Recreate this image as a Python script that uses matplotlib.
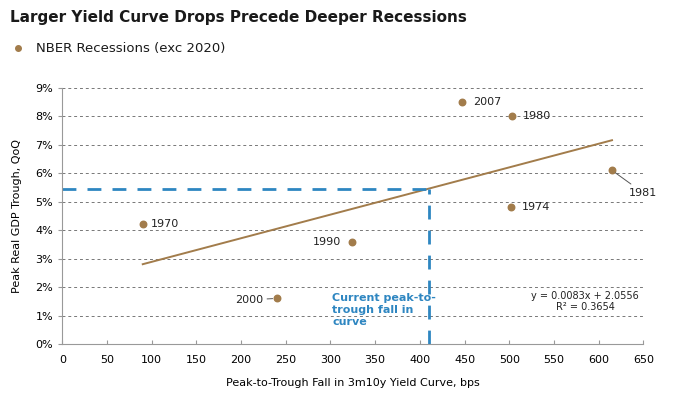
import matplotlib
matplotlib.use("Agg")
import matplotlib.pyplot as plt
from matplotlib.ticker import FuncFormatter

# NBER recessions (exc 2020): peak-to-trough fall in 3m10y curve vs GDP trough
years = ["1970", "2000", "1990", "2007", "1980", "1974", "1981"]
fall_bps = [90, 240, 324, 447, 503, 502, 615]
gdp_trough = [4.2, 1.6, 3.6, 8.5, 8.0, 4.8, 6.1]

# trendline as printed on the chart
slope = 0.0083
intercept = 2.0556
r2 = 0.3654

current_fall = 410

brown = "#A27C4B"
blue = "#2E86C1"

fig = plt.figure(figsize=(7, 3.94), dpi=100)
ax = fig.add_axes([0.089, 0.127, 0.830, 0.650])

ax.scatter(fall_bps, gdp_trough, s=22, color=brown, zorder=3)

x0, x1 = min(fall_bps), max(fall_bps)
ax.plot([x0, x1], [slope * x0 + intercept, slope * x1 + intercept],
        color=brown, lw=1.4, zorder=2)

# current reading, projected on the trendline
cur_y = slope * current_fall + intercept
ax.plot([0, current_fall], [cur_y, cur_y], color=blue, lw=2, ls=(0, (5, 4)), zorder=2)
ax.plot([current_fall, current_fall], [0, cur_y], color=blue, lw=2, ls=(0, (5, 4)), zorder=2)
ax.text(302, 1.78, "Current peak-to-\ntrough fall in\ncurve", color=blue, fontsize=8,
        fontweight="bold", va="top", ha="left", linespacing=1.25)

# point labels: (dx, dy) offsets in points and leader line flag
offsets = {
    "1970": (6, 0, "left", False),
    "2000": (-10, -1, "right", True),
    "1990": (-8, 0, "right", False),
    "2007": (8, 0, "left", False),
    "1980": (8, 0, "left", False),
    "1974": (8, 0, "left", False),
    "1981": (12, -16, "left", True),
}
for yr, xv, yv in zip(years, fall_bps, gdp_trough):
    dx, dy, ha, leader = offsets[yr]
    ax.annotate(yr, (xv, yv), xytext=(dx, dy), textcoords="offset points",
                ha=ha, va="center", fontsize=8, color="#222222",
                arrowprops=dict(arrowstyle="-", color="#555555", lw=0.7,
                                shrinkA=1, shrinkB=3) if leader else None)

ax.text(585, 1.5, "y = 0.0083x + 2.0556\nR\u00b2 = 0.3654", fontsize=7,
        ha="center", va="center", linespacing=1.1, color="#222222")

ax.set_xlim(0, 650)
ax.set_ylim(0, 9)
ax.set_xticks(range(0, 651, 50))
ax.set_yticks(range(0, 10))
ax.yaxis.set_major_formatter(FuncFormatter(lambda v, p: "%d%%" % v))
ax.grid(axis="y", ls=(0, (3, 3)), color="#777777", lw=0.7)
ax.set_axisbelow(True)
for s in ["top", "right"]:
    ax.spines[s].set_visible(False)
for s in ["left", "bottom"]:
    ax.spines[s].set_color("#999999")
ax.tick_params(axis="x", direction="in", length=3, color="#999999", labelsize=8, pad=8)
ax.tick_params(axis="y", direction="out", length=3, color="#999999", labelsize=8)

ax.set_xlabel("Peak-to-Trough Fall in 3m10y Yield Curve, bps", fontsize=8, labelpad=9)
ax.set_ylabel("Peak Real GDP Trough, QoQ", fontsize=8, labelpad=10)

fig.text(0.014, 0.955, "Larger Yield Curve Drops Precede Deeper Recessions",
         fontsize=11, fontweight="bold", va="center", ha="left", color="#1a1a1a")
fig.lines.append(plt.Line2D([0.026], [0.878], marker="o", ms=4, color=brown,
                            transform=fig.transFigure))
fig.text(0.052, 0.878, "NBER Recessions (exc 2020)", fontsize=9.5, va="center",
         ha="left", color="#1a1a1a")

fig.savefig("out.png", dpi=100)
